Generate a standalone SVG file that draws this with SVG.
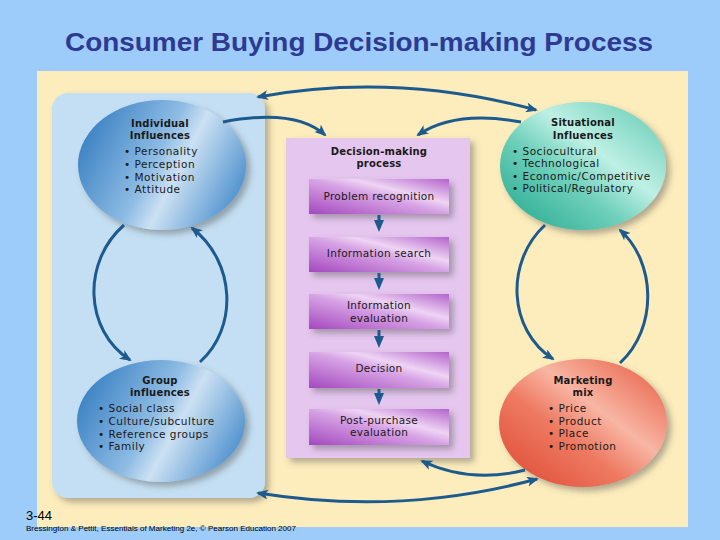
<svg xmlns="http://www.w3.org/2000/svg" width="720" height="540" viewBox="0 0 720 540">
<style>
.title{font-family:"Liberation Sans",Arial,sans-serif;font-weight:bold;font-size:26px;fill:#2E3A92}
.hd{font-family:"DejaVu Sans",sans-serif;font-weight:bold;font-size:10px;fill:#1a1a1a;text-anchor:middle;letter-spacing:0.2px}
.tx{font-family:"DejaVu Sans",sans-serif;font-size:10.5px;fill:#1a1a1a;letter-spacing:0.5px}
.bx{font-family:"DejaVu Sans",sans-serif;font-size:10.5px;fill:#1a1a1a;text-anchor:middle;letter-spacing:0.3px}
.conn{fill:none;stroke:#1D5A8E;stroke-width:3}
.box{fill:url(#gPurple);filter:url(#sh)}
.foot{font-family:"Liberation Sans",Arial,sans-serif;fill:#000}
</style>
<defs>
<filter id="sh" x="-20%" y="-20%" width="150%" height="150%">
<feDropShadow dx="4" dy="4" stdDeviation="3" flood-color="#555" flood-opacity="0.45"/>
</filter>
<linearGradient id="gBlue" x1="0" y1="0.3" x2="1" y2="0.7">
<stop offset="0" stop-color="#3A80C3"/><stop offset="0.45" stop-color="#8EBCE4"/><stop offset="0.6" stop-color="#CCE1F3"/><stop offset="1" stop-color="#4A8ECD"/>
</linearGradient>
<linearGradient id="gTeal" x1="0" y1="1" x2="1" y2="0">
<stop offset="0" stop-color="#1FA58A"/><stop offset="0.4" stop-color="#6FD0BB"/><stop offset="0.6" stop-color="#BFF0E5"/><stop offset="1" stop-color="#5CC8AF"/>
</linearGradient>
<linearGradient id="gRed" x1="0" y1="1" x2="1" y2="0">
<stop offset="0" stop-color="#DD4630"/><stop offset="0.4" stop-color="#EE7A62"/><stop offset="0.6" stop-color="#F8B6A4"/><stop offset="1" stop-color="#E6553B"/>
</linearGradient>
<linearGradient id="gPurple" x1="0" y1="1" x2="1" y2="0">
<stop offset="0" stop-color="#A448BE"/><stop offset="0.5" stop-color="#D7A3E5"/><stop offset="0.65" stop-color="#EED4F4"/><stop offset="1" stop-color="#B363CB"/>
</linearGradient>
<marker id="ah" viewBox="0 0 12 10" refX="10" refY="5" markerWidth="12" markerHeight="10" markerUnits="userSpaceOnUse" orient="auto-start-reverse">
<path d="M0,0 L12,5 L0,10 L3,5 z" fill="#1D5A8E"/>
</marker>
<marker id="sah" viewBox="0 0 12 10" refX="6" refY="5" markerWidth="12" markerHeight="11" markerUnits="userSpaceOnUse" orient="auto">
<path d="M0,0 L12,5 L0,10 z" fill="#1D5A8E"/>
</marker>
</defs>
<rect x="0" y="0" width="720" height="540" fill="#9DCCFA"/>
<text class="title" x="65" y="51" textLength="588" lengthAdjust="spacingAndGlyphs">Consumer Buying Decision-making Process</text>
<rect x="37" y="71" width="651" height="456" fill="#FDEDBC"/>

<g id="group-panel">
<rect x="52" y="93" width="213" height="405" rx="16" fill="#C4DFF3" filter="url(#sh)"/>
</g>

<g id="process-panel">
<rect x="286" y="138" width="184" height="320" fill="#E5C6EF" filter="url(#sh)"/>
<text class="hd" x="379" y="155">Decision-making</text>
<text class="hd" x="379" y="167">process</text>
</g>

<g id="problem-recognition">
<rect class="box" x="309" y="179" width="140" height="35"/>
<text class="bx" x="379" y="200">Problem recognition</text>
</g>
<g id="information-search">
<rect class="box" x="309" y="237" width="140" height="35"/>
<text class="bx" x="379" y="257">Information search</text>
</g>
<g id="information-evaluation">
<rect class="box" x="309" y="294" width="140" height="35"/>
<text class="bx" x="379" y="309">Information</text>
<text class="bx" x="379" y="322">evaluation</text>
</g>
<g id="decision">
<rect class="box" x="309" y="352" width="140" height="36"/>
<text class="bx" x="379" y="372">Decision</text>
</g>
<g id="post-purchase">
<rect class="box" x="309" y="409" width="140" height="36"/>
<text class="bx" x="379" y="424">Post-purchase</text>
<text class="bx" x="379" y="436">evaluation</text>
</g>

<g id="individual-influences">
<ellipse cx="162" cy="165" rx="84" ry="65" fill="url(#gBlue)" filter="url(#sh)"/>
<text class="hd" x="160" y="127">Individual</text>
<text class="hd" x="160" y="139">Influences</text>
<text class="tx" x="124" y="155">• Personality</text>
<text class="tx" x="124" y="168">• Perception</text>
<text class="tx" x="124" y="181">• Motivation</text>
<text class="tx" x="124" y="193">• Attitude</text>
</g>

<g id="group-influences">
<ellipse cx="161" cy="421" rx="84" ry="61" fill="url(#gBlue)" filter="url(#sh)"/>
<text class="hd" x="160" y="384">Group</text>
<text class="hd" x="160" y="396">influences</text>
<text class="tx" x="98" y="412">• Social class</text>
<text class="tx" x="98" y="425">• Culture/subculture</text>
<text class="tx" x="98" y="438">• Reference groups</text>
<text class="tx" x="98" y="450">• Family</text>
</g>

<g id="situational-influences">
<ellipse cx="583" cy="166" rx="83" ry="64" fill="url(#gTeal)" filter="url(#sh)"/>
<text class="hd" x="583" y="126">Situational</text>
<text class="hd" x="583" y="139">Influences</text>
<text class="tx" x="512" y="155">• Sociocultural</text>
<text class="tx" x="512" y="167">• Technological</text>
<text class="tx" x="512" y="180">• Economic/Competitive</text>
<text class="tx" x="512" y="192">• Political/Regulatory</text>
</g>

<g id="marketing-mix">
<ellipse cx="583" cy="423" rx="84" ry="64" fill="url(#gRed)" filter="url(#sh)"/>
<text class="hd" x="583" y="384">Marketing</text>
<text class="hd" x="583" y="396">mix</text>
<text class="tx" x="548" y="412">• Price</text>
<text class="tx" x="548" y="425">• Product</text>
<text class="tx" x="548" y="437">• Place</text>
<text class="tx" x="548" y="450">• Promotion</text>
</g>

<g id="connectors">
<path class="conn" d="M258,97 Q395,72 536,110" marker-start="url(#ah)" marker-end="url(#ah)"/>
<path class="conn" d="M223,122 Q295,108 325,135" marker-end="url(#ah)"/>
<path class="conn" d="M521,122 Q455,110 418,135" marker-end="url(#ah)"/>
<path class="conn" d="M124,225 C82,262 84,330 130,360" marker-end="url(#ah)"/>
<path class="conn" d="M200,362 C238,328 236,262 192,228" marker-end="url(#ah)"/>
<path class="conn" d="M545,225 C505,262 508,330 553,359" marker-end="url(#ah)"/>
<path class="conn" d="M620,363 C658,328 656,262 620,230" marker-end="url(#ah)"/>
<path class="conn" d="M525,470 Q470,484 422,461" marker-end="url(#ah)"/>
<path class="conn" d="M258,493 Q400,516 537,479" marker-start="url(#ah)" marker-end="url(#ah)"/>
<path class="conn" d="M379,215 L379,226" stroke-width="4" marker-end="url(#sah)"/>
<path class="conn" d="M379,273 L379,284" stroke-width="4" marker-end="url(#sah)"/>
<path class="conn" d="M379,330 L379,342" stroke-width="4" marker-end="url(#sah)"/>
<path class="conn" d="M379,389 L379,399" stroke-width="4" marker-end="url(#sah)"/>
</g>

<text class="foot" x="26" y="520" font-size="13">3-44</text>
<text class="foot" x="26" y="531" font-size="8" textLength="270" lengthAdjust="spacingAndGlyphs">Bressington &amp; Pettit, Essentials of Marketing 2e, © Pearson Education 2007</text>
</svg>
